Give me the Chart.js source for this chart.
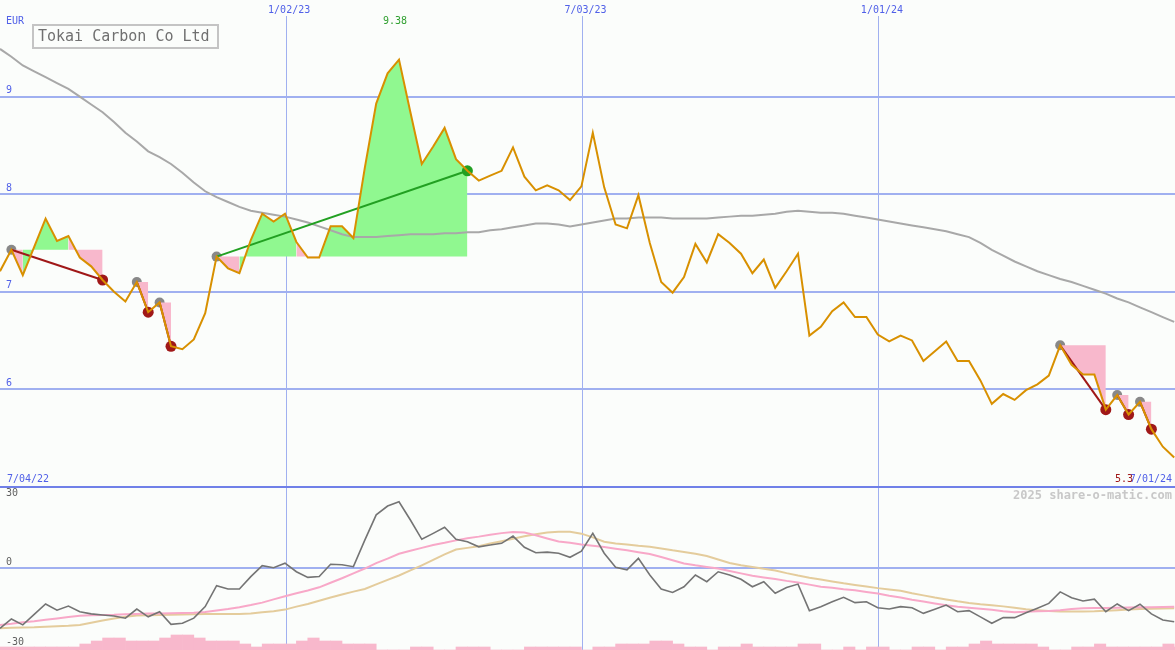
<!DOCTYPE html>
<html><head><meta charset="utf-8">
<script src="https://cdn.jsdelivr.net/npm/chart.js@4/dist/chart.umd.min.js"></script>
<style>html,body{margin:0;padding:0;background:#FBFDFB;overflow:hidden}</style>
</head><body>
<canvas id="c" width="1175" height="650"></canvas>
<script>
// ---------- data (weekly, index 0 = first week shown) ----------
const title = 'Tokai Carbon Co Ltd';
const currency = 'EUR';
const firstDate = '7/04/22';
const lastDate = '7/01/24';
const xTickPos = [25.1, 51.1, 77.1];
const xTickLabels = ['1/02/23', '7/03/23', '1/01/24'];
const priceTicks = [9, 8, 7, 6, 5];
const oscTicks = [30, 0, -30];

const price = [7.21,7.43,7.17,7.46,7.75,7.52,7.57,7.35,7.26,7.12, 7.00,6.90,7.10,6.79,6.89,6.44,6.41,6.51,6.78,7.36,
  7.24,7.19,7.53,7.80,7.72,7.80,7.51,7.35,7.35,7.67, 7.67,7.55,8.27,8.93,9.24,9.38,8.84,8.31,8.49,8.68,
  8.36,8.24,8.14,8.19,8.24,8.48,8.18,8.04,8.09,8.04, 7.94,8.08,8.63,8.07,7.69,7.65,7.99,7.50,7.10,6.99,
  7.15,7.49,7.30,7.59,7.50,7.39,7.19,7.33,7.04,7.21, 7.39,6.55,6.64,6.80,6.89,6.74,6.74,6.56,6.49,6.55,
  6.50,6.29,6.39,6.49,6.29,6.29,6.09,5.85,5.95,5.89, 5.99,6.05,6.14,6.45,6.25,6.15,6.15,5.79,5.94,5.74,
  5.87,5.59,5.41,5.30];

const priceMA = [9.49,9.41,9.32,9.26,9.20,9.14,9.08,9.00,8.92,8.84, 8.74,8.63,8.54,8.44,8.38,8.31,8.22,8.12,8.03,7.97,
  7.92,7.87,7.83,7.81,7.79,7.77,7.74,7.71,7.67,7.63, 7.59,7.56,7.56,7.56,7.57,7.58,7.59,7.59,7.59,7.60,
  7.60,7.61,7.61,7.63,7.64,7.66,7.68,7.70,7.70,7.69, 7.67,7.69,7.71,7.73,7.75,7.75,7.76,7.76,7.76,7.75,
  7.75,7.75,7.75,7.76,7.77,7.78,7.78,7.79,7.80,7.82, 7.83,7.82,7.81,7.81,7.80,7.78,7.76,7.74,7.72,7.70,
  7.68,7.66,7.64,7.62,7.59,7.56,7.50,7.43,7.37,7.31, 7.26,7.21,7.17,7.13,7.10,7.06,7.02,6.98,6.93,6.89,
  6.84,6.79,6.74,6.69];

const osc = [-22.5,-19.0,-21.2,-17.3,-13.4,-15.7,-14.2,-16.3,-17.1,-17.5, -17.9,-18.7,-15.3,-18.2,-16.3,-21.0,-20.6,-18.7,-14.4,-6.6,
  -7.8,-7.8,-3.2,0.9,0.1,1.8,-1.4,-3.5,-3.2,1.4, 1.2,0.5,10.4,19.8,23.1,24.7,17.9,10.7,12.9,15.2,
  10.7,9.8,7.9,8.6,9.2,11.9,7.7,5.7,5.9,5.5, 4.0,6.3,12.9,5.5,0.3,-0.7,3.6,-2.6,-7.8,-9.1,
  -7.0,-2.6,-5.1,-1.4,-2.6,-4.2,-7.0,-5.1,-9.4,-7.3, -6.0,-15.9,-14.4,-12.6,-10.9,-12.9,-12.6,-14.8,-15.3,-14.4,
  -14.8,-16.9,-15.4,-13.8,-16.3,-15.9,-18.2,-20.6,-18.5,-18.5, -16.7,-15.0,-13.2,-8.9,-11.1,-12.3,-11.6,-16.3,-13.4,-15.9,
  -13.5,-17.1,-19.4,-20.0];

const oscFast = [-21.2,-20.8,-20.2,-19.8,-19.3,-18.8,-18.3,-17.8,-17.6,-17.5, -17.4,-17.2,-17.1,-17.0,-17.0,-16.9,-16.8,-16.7,-16.4,-15.8,
  -15.3,-14.6,-13.8,-12.9,-11.7,-10.5,-9.4,-8.4,-7.2,-5.5, -3.8,-2.0,-0.2,1.8,3.5,5.3,6.4,7.5,8.6,9.4,
  10.3,11.1,11.7,12.4,13.0,13.4,13.2,12.2,11.0,9.9, 9.4,8.8,8.3,7.8,7.2,6.6,5.9,5.2,4.1,2.9,
  1.7,1.0,0.4,-0.2,-1.1,-2.0,-2.9,-3.5,-4.1,-4.8, -5.4,-6.2,-7.0,-7.4,-7.9,-8.3,-8.9,-9.5,-10.3,-11.0,
  -11.8,-12.5,-13.2,-13.9,-14.4,-14.8,-15.2,-15.6,-16.1,-16.5, -16.3,-16.1,-16.0,-15.7,-15.3,-15.0,-14.9,-14.9,-14.8,-14.7,
  -14.6,-14.6,-14.5,-14.4];

const oscSlow = [-22.5,-22.3,-22.2,-22.1,-21.9,-21.7,-21.5,-21.2,-20.4,-19.6, -18.8,-18.2,-17.7,-17.6,-17.5,-17.4,-17.3,-17.2,-17.1,-17.1,
  -17.1,-17.1,-17.0,-16.5,-16.1,-15.5,-14.4,-13.4,-12.2,-11.0, -9.9,-8.8,-7.8,-6.1,-4.4,-2.8,-0.9,1.0,3.0,5.1,
  6.9,7.5,8.1,9.1,10.0,10.9,11.8,12.6,13.2,13.5, 13.5,12.8,11.4,9.8,9.1,8.8,8.3,7.9,7.3,6.6,
  6.0,5.3,4.5,3.2,1.9,1.0,0.4,-0.3,-0.9,-1.9, -2.8,-3.6,-4.3,-5.0,-5.7,-6.3,-6.9,-7.5,-8.0,-8.5,
  -9.4,-10.2,-11.0,-11.7,-12.4,-13.0,-13.5,-13.9,-14.3,-14.8, -15.4,-15.7,-16.0,-16.2,-16.2,-16.2,-16.1,-15.9,-15.7,-15.5,
  -15.3,-15.2,-15.1,-15.0];

const volume = [1,1,1,1,1,1,1,2,3,4, 4,3,3,3,4,5,5,4,3,3, 3,2,1,2,2,2,3,4,3,3,
  2,2,2,0,0,0,1,1,0,0, 1,1,1,0,0,0,1,1,1,1, 1,0,1,1,2,2,2,3,3,2,
  1,1,0,1,1,2,1,1,1,1, 2,2,0,0,1,0,1,1,0,0, 1,1,0,1,1,2,3,2,2,2,
  2,1,0,0,1,1,2,1,1,1, 1,1,2,1];

const signalStart = [1, 12, 14, 19, 93, 98, 100];
const signalEnd   = [9, 13, 15, 41, 97, 99, 101];
const signalKind  = ['sell','sell','sell','buy','sell','sell','sell'];

// ---------- styles ----------
const GRID = '#A0B0F0', SEP = '#7080E8', BLUE_TXT = '#5060E8';
const FILL_UP = '#90F890', FILL_DOWN = '#F8B8CC';
const RED = '#A01818', GREEN = '#22A022', MARK_GRAY = '#888888';
const MONO = '"DejaVu Sans Mono", "Liberation Mono", monospace';

const pts = arr => arr.map((v, i) => ({x: i, y: v}));
const noPad = s => { s.paddingTop = 0; s.paddingBottom = 0; s.paddingLeft = 0; s.paddingRight = 0; };

const datasets = [];
datasets.push({
  type: 'bar', label: 'volume', yAxisID: 'yv', order: 20,
  data: volume.map((v, k) => ({x: k + 0.5, y: v})),
  backgroundColor: '#F8B8CC', borderWidth: 0, barPercentage: 1, categoryPercentage: 1
});
datasets.push({
  type: 'line', label: 'start', yAxisID: 'y', order: 16, showLine: false,
  data: signalStart.map(s => ({x: s, y: price[s]})),
  pointRadius: 5, pointHoverRadius: 5, pointBackgroundColor: MARK_GRAY, pointBorderWidth: 0
});
signalStart.forEach((s, n) => {
  const level = price[s];
  const d = [];
  for (let i = s; i <= signalEnd[n]; i++) d.push({x: i, y: price[i]});
  datasets.push({
    type: 'line', label: 'fill' + n, yAxisID: 'y', order: 15, data: d,
    borderWidth: 0, pointRadius: 0, fill: {value: level},
    backgroundColor: FILL_DOWN,
    segment: { backgroundColor: c => (c.p1.parsed.y >= level ? FILL_UP : FILL_DOWN) }
  });
});
datasets.push({type: 'line', label: 'ma', yAxisID: 'y', order: 12, data: pts(priceMA),
  borderColor: '#A8A8A8', borderWidth: 2, pointRadius: 0});
datasets.push({type: 'line', label: 'oscSlow', yAxisID: 'yo', order: 11, data: pts(oscSlow),
  borderColor: '#E4CC9C', borderWidth: 2, pointRadius: 0});
datasets.push({type: 'line', label: 'oscFast', yAxisID: 'yo', order: 10, data: pts(oscFast),
  borderColor: '#F8A8C8', borderWidth: 2, pointRadius: 0});
datasets.push({type: 'line', label: 'osc', yAxisID: 'yo', order: 9, data: pts(osc),
  borderColor: '#747474', borderWidth: 1.6, pointRadius: 0});
signalStart.forEach((s, n) => {
  const e = signalEnd[n];
  datasets.push({type: 'line', label: 'sig' + n, yAxisID: 'y', order: 6,
    data: [{x: s, y: price[s]}, {x: e, y: price[e]}],
    borderColor: signalKind[n] === 'buy' ? GREEN : RED, borderWidth: 2, pointRadius: 0});
});
datasets.push({
  type: 'line', label: 'end', yAxisID: 'y', order: 5, showLine: false,
  data: signalEnd.map(e => ({x: e, y: price[e]})),
  pointRadius: 5.5, pointHoverRadius: 5.5, pointBorderWidth: 0,
  pointBackgroundColor: signalKind.map(k => k === 'buy' ? GREEN : RED)
});
datasets.push({type: 'line', label: 'price', yAxisID: 'y', order: 1, data: pts(price),
  borderColor: '#D89000', borderWidth: 2, pointRadius: 0});

const maxIdx = price.indexOf(Math.max(...price));
const lastIdx = price.length - 1;

const textPlugin = {
  id: 'texts',
  beforeDraw(chart) {
    const c = chart.ctx;
    c.save(); c.fillStyle = '#FBFDFB'; c.fillRect(0, 0, chart.width, chart.height); c.restore();
  },
  afterDraw(chart) {
    const c = chart.ctx, xs = chart.scales.x;
    c.save();
    c.textBaseline = 'middle';
    c.font = '10px ' + MONO;
    c.fillStyle = BLUE_TXT; c.textAlign = 'left';
    c.fillText(currency, 6, 21);
    c.fillText(firstDate, 7, 479);
    c.textAlign = 'right';
    c.fillText(lastDate, 1172, 479);
    c.fillStyle = RED;
    c.fillText(price[lastIdx].toFixed(1), 1133, 479);
    c.fillStyle = '#30A030'; c.textAlign = 'center';
    c.fillText(price[maxIdx].toFixed(2), xs.getPixelForValue(maxIdx) - 4, 21);
    c.font = 'bold 12px ' + MONO; c.fillStyle = '#C8C8C8'; c.textAlign = 'right';
    c.fillText('2025 share-o-matic.com', 1172, 496);
    // title box
    c.strokeStyle = '#C4C4C4'; c.lineWidth = 2;
    c.strokeRect(33, 25, 185, 23);
    c.font = '15px ' + MONO; c.fillStyle = '#707070'; c.textAlign = 'left';
    c.textBaseline = 'alphabetic';
    c.fillText(title, 38, 41);
    c.restore();
  }
};

new Chart(document.getElementById('c'), {
  type: 'line',
  data: {datasets},
  plugins: [textPlugin],
  options: {
    responsive: false, animation: false, devicePixelRatio: 1,
    layout: {padding: 0, autoPadding: false},
    plugins: {legend: {display: false}, tooltip: {enabled: false}},
    events: [],
    scales: {
      x: {
        type: 'linear', position: 'top', min: 0, max: 103.07, offset: false,
        afterBuildTicks: s => { s.ticks = xTickPos.map(v => ({value: v})); },
        afterFit: s => { s.height = 16; noPad(s); },
        grid: {color: GRID, lineWidth: 1, drawTicks: false, offset: false},
        border: {display: false},
        ticks: {callback: (v, i) => xTickLabels[i], color: BLUE_TXT, font: {family: MONO, size: 10},
          padding: 0, labelOffset: 3, maxRotation: 0, autoSkip: false}
      },
      y: {
        type: 'linear', position: 'left', min: 3.325, max: 9.8277,
        afterBuildTicks: s => { s.ticks = priceTicks.map(v => ({value: v})); },
        afterFit: s => { s.width = 0; noPad(s); },
        grid: {color: c => (c.tick && c.tick.value === 5 ? SEP : GRID), lineWidth: 2, drawTicks: false},
        border: {display: false},
        ticks: {mirror: true, padding: 6, labelOffset: -6, color: BLUE_TXT, font: {family: MONO, size: 10},
          callback: v => (v === 5 ? '' : String(v))}
      },
      yo: {
        type: 'linear', position: 'left', min: -30.56, max: 205.74,
        afterBuildTicks: s => { s.ticks = oscTicks.map(v => ({value: v})); },
        afterFit: s => { s.width = 0; noPad(s); },
        grid: {color: c => (c.tick && c.tick.value === 0 ? GRID : 'rgba(0,0,0,0)'), lineWidth: 2, drawTicks: false},
        border: {display: false},
        ticks: {mirror: true, padding: 6, labelOffset: -6, color: '#606060', font: {family: MONO, size: 10},
          callback: v => (v === oscTicks[0] ? ['', '', String(v)] : String(v))}
      },
      yv: {type: 'linear', display: false, min: 0, max: 211.33, afterFit: noPad}
    }
  }
});
</script>
</body></html>
